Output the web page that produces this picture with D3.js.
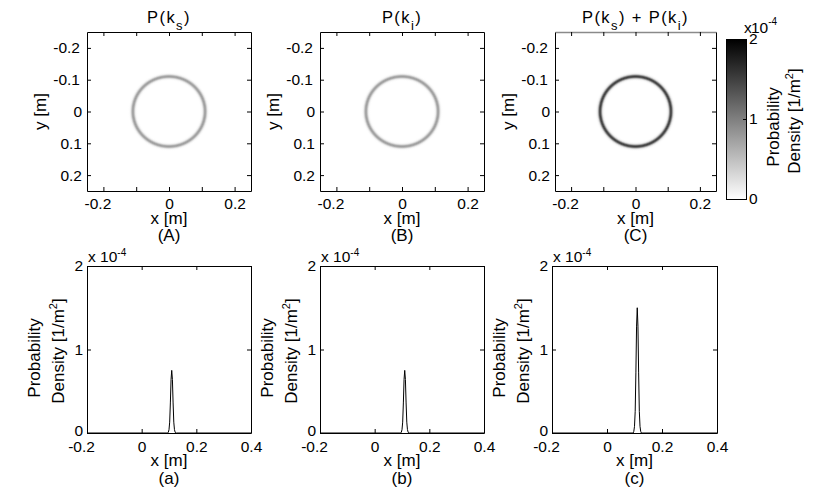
<!DOCTYPE html>
<html><head><meta charset="utf-8">
<script src="https://cdn.jsdelivr.net/npm/d3@7/dist/d3.min.js"></script>
<style>body{margin:0;background:#fff}svg{display:block;font-family:"Liberation Sans",Arial,sans-serif}</style>
</head><body><script>
// ---------- data ----------
const radius      = [0.0925,0.095,0.0975,0.1,0.1025,0.105,0.1075,0.11,0.1125,0.115,0.1175,0.12,0.1225,0.125,0.1275];
const densityKs   = [0,0,0.01,0.04,0.13,0.36,0.64,0.75,0.64,0.36,0.13,0.04,0.01,0,0];
const densityKi   = [0,0,0.01,0.04,0.13,0.36,0.64,0.75,0.64,0.36,0.13,0.04,0.01,0,0];
const densitySum  = [0,0,0.02,0.08,0.26,0.72,1.28,1.50,1.28,0.72,0.26,0.08,0.02,0,0];
const mapTicks      = [-0.2,-0.1,0,0.1,0.2];
const mapXLabels    = [-0.2,0,0.2];
const profileXTicks = [-0.2,0,0.2,0.4];
const profileYTicks = [0,1,2];
const colorbarTicks = [0,1,2];
const mapLetters     = ["(A)","(B)","(C)"];
const profileLetters = ["(a)","(b)","(c)"];
const titleKs = [{t:"P(k"},{t:"s",sub:true},{t:")"}];
const titleKi = [{t:"P(k"},{t:"i",sub:true},{t:")"}];
const titleSum = [{t:"P(k"},{t:"s",sub:true},{t:") + P(k"},{t:"i",sub:true},{t:")"}];

// ---------- layout ----------
const W = 830, H = 493;
const mapX = [[87,251],[320,484],[555,716]], mapY = [32,191];
const profX = [[87,251],[320,484],[552,717]], profY = [266,433];
const cb = {x0:726, x1:746, y0:39, y1:199};
const FONT_T = 15.5, FONT_L = 17;

const svg = d3.select("body").append("svg").attr("width",W).attr("height",H);
const defs = svg.append("defs");
const color = d3.scaleLinear().domain([0,2]).range(["#ffffff","#000000"]);
const fmt = d => String(d);

function styleAxis(g, neg){
  g.attr("font-size",FONT_T).attr("font-family",null);
  g.selectAll(".tick text").attr("fill","#000");
  g.selectAll("path.domain,.tick line").attr("stroke","#000");
  if(neg) g.selectAll(".tick text").filter(d=>d<0).attr("dx",neg);
}

function boxAxes(g, x, y, xt, xl, yt, yl, padX, padY, yDy){
  const [x0,x1] = x.range(); const ys = y.range(); const yTop = Math.min(...ys), yBot = Math.max(...ys);
  g.append("g").attr("transform",`translate(0,${yBot})`)
    .call(d3.axisBottom(x).tickValues(xt).tickSizeInner(-4).tickSizeOuter(0).tickPadding(padX)
      .tickFormat(d => xl.includes(d) ? fmt(d) : "")).call(s=>styleAxis(s,-6));
  const top = g.append("g").attr("transform",`translate(0,${yTop})`)
    .call(d3.axisTop(x).tickValues(xt).tickSizeInner(-4).tickSizeOuter(0).tickFormat(()=>""));
  styleAxis(top);
  const left = g.append("g").attr("transform",`translate(${x0},0)`)
    .call(d3.axisLeft(y).tickValues(yt).tickSizeInner(-4).tickSizeOuter(0).tickPadding(padY)
      .tickFormat(d => yl.includes(d) ? fmt(d) : "")).call(s=>styleAxis(s,-2));
  if(yDy) left.selectAll(".tick text").filter(d=>d===yt[0]).attr("dy",yDy);
  g.append("g").attr("transform",`translate(${x1},0)`)
    .call(d3.axisRight(y).tickValues(yt).tickSizeInner(-4).tickSizeOuter(0).tickFormat(()=>"")).call(s=>styleAxis(s));
  return top;
}

function title(cx, segs){
  const t = svg.append("text").attr("x",cx).attr("y",23).attr("text-anchor","middle")
    .attr("font-size",16.5).attr("letter-spacing",1.4).attr("fill","#000");
  let shifted = false;
  segs.forEach(s=>{
    const ts = t.append("tspan").text(s.t);
    if(s.sub){ ts.attr("font-size",13).attr("dy",7); shifted = true; }
    else if(shifted){ ts.attr("dy",-7); shifted = false; }
  });
}

function rotLabel(x, y, txt, sup){
  const t = svg.append("text").attr("transform",`translate(${x},${y}) rotate(-90)`)
    .attr("text-anchor","middle").attr("font-size",FONT_L).attr("fill","#000");
  t.append("tspan").text(txt);
  if(sup){ t.append("tspan").text(sup).attr("font-size",11).attr("dy",-7);
           t.append("tspan").text("]").attr("dy",7); }
}

// ---------- top: 2D maps ----------
const mapData = [densityKs, densityKi, densitySum];
const titles = [titleKs, titleKi, titleSum];
const rMax = radius[radius.length-1];
mapData.forEach((vals,i)=>{
  const [x0,x1] = mapX[i];
  const x = d3.scaleLinear().domain([-0.25,0.25]).range([x0,x1]);
  const y = d3.scaleLinear().domain([-0.25,0.25]).range([mapY[0],mapY[1]]);
  const g = svg.append("g");
  const rg = defs.append("radialGradient").attr("id","ring"+i)
    .attr("cx",0.5).attr("cy",0.5).attr("r",0.5);
  rg.selectAll("stop").data(radius.map((r,k)=>({r, v:vals[k]}))).join("stop")
    .attr("offset",d=>d.r/rMax).attr("stop-color",d=>color(d.v));
  g.append("ellipse").attr("cx",x(0)).attr("cy",y(0))
    .attr("rx",x(rMax)-x(0)).attr("ry",y(rMax)-y(0))
    .attr("fill",`url(#ring${i})`);
  const top = boxAxes(g, x, y, mapTicks, mapXLabels, mapTicks, mapTicks, 7, 5);
  if(i===2) top.select("path.domain").attr("stroke","#8a8a8a").attr("stroke-width",1.6);
  const cx = (x0+x1)/2;
  title(cx, titles[i]);
  svg.append("text").attr("x",cx).attr("y",223.5).attr("text-anchor","middle").attr("font-size",FONT_L).text("x [m]");
  svg.append("text").attr("x",cx).attr("y",241).attr("text-anchor","middle").attr("font-size",FONT_L).text(mapLetters[i]);
  rotLabel(x0-41.5, (mapY[0]+mapY[1])/2, "y [m]");
});

// ---------- colorbar ----------
const cbY = d3.scaleLinear().domain([0,2]).range([cb.y1,cb.y0]);
const grad = defs.append("linearGradient").attr("id","cbgrad")
  .attr("x1",0).attr("y1",1).attr("x2",0).attr("y2",0);
grad.selectAll("stop").data(colorbarTicks).join("stop")
  .attr("offset",d=>(cbY(0)-cbY(d))/(cbY(0)-cbY(2)))
  .attr("stop-color",d=>color(d));
svg.append("rect").attr("x",cb.x0+0.5).attr("y",cb.y0+0.5).attr("width",cb.x1-cb.x0).attr("height",cb.y1-cb.y0)
  .attr("fill","url(#cbgrad)").attr("stroke","#000");
svg.append("g").attr("transform",`translate(${cb.x1},0)`)
  .call(d3.axisRight(cbY).tickValues(colorbarTicks).tickSizeInner(-3).tickSizeOuter(0).tickPadding(3).tickFormat(fmt))
  .call(s=>{styleAxis(s); s.select("path.domain").remove();});
{
  const t = svg.append("text").attr("y",33).attr("font-size",FONT_T).attr("fill","#000");
  t.append("tspan").attr("x",744).text("x");
  t.append("tspan").attr("x",751).text("10");
  t.append("tspan").attr("font-size",10).attr("dy",-8).text("-4");
}
rotLabel(779, 127, "Probability");
rotLabel(800, 121, "Density [1/m", "2");

// ---------- bottom: profiles ----------
const profData = [densityKs, densityKi, densitySum];
profData.forEach((vals,i)=>{
  const [x0,x1] = profX[i];
  const x = d3.scaleLinear().domain([-0.2,0.4]).range([x0,x1]);
  const y = d3.scaleLinear().domain([0,2]).range([profY[1],profY[0]]);
  const g = svg.append("g");
  const pts = [[x.domain()[0],0], ...radius.map((r,k)=>[r,vals[k]]), [x.domain()[1],0]];
  g.append("path").datum(pts).attr("fill","none").attr("stroke","#000").attr("stroke-width",1)
    .attr("d", d3.line().x(d=>x(d[0])).y(d=>y(d[1])));
  boxAxes(g, x, y, profileXTicks, profileXTicks, profileYTicks, profileYTicks, 8, 4, "0.15em");
  const cx = (x0+x1)/2;
  svg.append("text").attr("x",cx).attr("y",465.5).attr("text-anchor","middle").attr("font-size",FONT_L).text("x [m]");
  svg.append("text").attr("x",cx).attr("y",484).attr("text-anchor","middle").attr("font-size",FONT_L).text(profileLetters[i]);
  const e = svg.append("text").attr("x",x0+1).attr("y",262).attr("font-size",FONT_T).attr("fill","#000");
  e.append("tspan").text("x 10");
  e.append("tspan").attr("font-size",10).attr("dy",-6).text("-4");
  const cy = (profY[0]+profY[1])/2;
  rotLabel(x0-47, cy+8.5, "Probability");
  rotLabel(x0-23, cy+1.5, "Density [1/m", "2");
});
</script></body></html>
